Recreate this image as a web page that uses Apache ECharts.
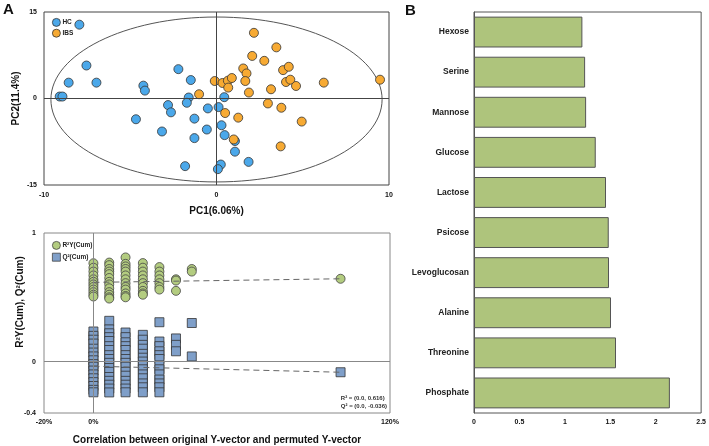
<!DOCTYPE html>
<html>
<head>
<meta charset="utf-8">
<script src="https://cdn.jsdelivr.net/npm/echarts@6/dist/echarts.min.js"></script>
<style>
  html, body { margin: 0; padding: 0; background: #fff; }
  #chart { width: 709px; height: 446px; }
</style>
</head>
<body>
<div id="chart"></div>
<script>
// --- PCA scores (panel A, top)
const hcPoints = [
  [-7.95, 12.8], [-7.54, 5.72], [-8.57, 2.75], [-6.96, 2.75], [-9.09, 0.34], [-8.93, 0.34],
  [-4.24, 2.23], [-4.15, 1.37], [-2.21, 5.09], [-1.49, 3.2], [-1.61, 0.17], [-1.72, -0.74],
  [-2.81, -1.14], [-2.64, -2.4], [-4.67, -3.6], [-3.16, -5.72], [-1.28, -3.49], [-0.5, -1.72],
  [-0.56, -5.38], [-1.28, -6.87], [-1.82, -11.73], [0.12, -1.49], [0.45, 0.23], [0.29, -4.64],
  [0.47, -6.35], [1.07, -7.38], [1.07, -9.22], [1.86, -10.99], [0.25, -11.45], [0.08, -12.25]
];
const ibsPoints = [
  [2.17, 11.39], [3.47, 8.87], [2.07, 7.38], [2.77, 6.53], [1.55, 5.21], [1.74, 4.35],
  [3.86, 4.92], [4.19, 5.5], [-0.1, 3.03], [0.35, 2.69], [0.66, 3.09], [0.89, 3.55],
  [0.68, 1.89], [1.67, 3.03], [1.88, 1.03], [4.03, 2.86], [4.28, 3.26], [4.61, 2.17],
  [3.16, 1.6], [6.22, 2.75], [9.48, 3.26], [-1.01, 0.74], [2.98, -0.86], [3.76, -1.6],
  [0.5, -2.52], [1.26, -3.32], [4.94, -4.0], [3.72, -8.3], [1.0, -7.1]
];
// Hotelling ellipse: center x, center y, radius x, radius y
const ellipse = [0, -0.17, 9.6, 14.3];

// --- permutation test (panel A, bottom), x in %
const permX = [0, 6.4, 13, 20, 26.7, 33.4, 39.8, 100];
const r2Cols = [
  [0.765, 0.73, 0.70, 0.67, 0.64, 0.62, 0.60, 0.58, 0.56, 0.54, 0.52, 0.506],
  [0.77, 0.75, 0.72, 0.70, 0.68, 0.65, 0.62, 0.60, 0.57, 0.54, 0.52, 0.50, 0.49],
  [0.81, 0.76, 0.74, 0.72, 0.70, 0.67, 0.64, 0.61, 0.58, 0.56, 0.53, 0.51, 0.50],
  [0.766, 0.73, 0.70, 0.67, 0.64, 0.61, 0.58, 0.55, 0.53, 0.52],
  [0.735, 0.70, 0.67, 0.64, 0.61, 0.58, 0.56],
  [0.64, 0.63, 0.55],
  [0.72, 0.70],
  [0.644]
];
const q2Cols = [
  [0.234, 0.20, 0.17, 0.14, 0.10, 0.07, 0.04, 0.01, -0.02, -0.04, -0.07, -0.10, -0.13, -0.16, -0.19, -0.22, -0.239],
  [0.317, 0.25, 0.22, 0.19, 0.16, 0.12, 0.09, 0.05, 0.02, -0.01, -0.05, -0.08, -0.12, -0.15, -0.18, -0.21, -0.24],
  [0.226, 0.19, 0.15, 0.12, 0.09, 0.05, 0.02, -0.01, -0.04, -0.08, -0.11, -0.15, -0.18, -0.21, -0.239],
  [0.208, 0.17, 0.13, 0.10, 0.06, 0.03, 0.00, -0.03, -0.06, -0.10, -0.13, -0.17, -0.20, -0.239],
  [0.306, 0.156, 0.12, 0.08, 0.05, 0.02, -0.03, -0.06, -0.10, -0.14, -0.17, -0.20, -0.239],
  [0.18, 0.13, 0.08],
  [0.30, 0.04],
  [-0.083]
];
const r2Line = [[0, 0.616], [100, 0.644]];
const q2Line = [[0, -0.036], [100, -0.083]];

// --- VIP (panel B)
const metabolites = ['Hexose', 'Serine', 'Mannose', 'Glucose', 'Lactose', 'Psicose', 'Levoglucosan', 'Alanine', 'Threonine', 'Phosphate'];
const vip = [1.193, 1.223, 1.234, 1.34, 1.453, 1.483, 1.486, 1.508, 1.563, 2.156];

const FONT = 'Liberation Sans';

function toPoints(xs, cols) {
  const out = [];
  cols.forEach((col, i) => col.forEach(v => out.push([xs[i], v])));
  return out;
}

const chart = echarts.init(document.getElementById('chart'));

const tickLabel = { color: '#111', fontSize: 7, fontWeight: 'bold', fontFamily: FONT };
const axisName = { color: '#111', fontSize: 10, fontWeight: 'bold', fontFamily: FONT };
const legendText = { fontSize: 6.5, fontWeight: 'bold', color: '#222', padding: [0, 0, 0, -3] };

const option = {
  animation: false,
  backgroundColor: '#fff',
  textStyle: { fontFamily: FONT },
  grid: [
    { left: 44, top: 12, width: 345, height: 173, show: true, borderColor: '#444', borderWidth: 1 },
    { left: 44, top: 233, width: 346, height: 180, show: true, borderColor: '#888', borderWidth: 1 },
    { left: 474, top: 12, width: 228, height: 401, show: true, borderColor: '#555', borderWidth: 1 }
  ],
  xAxis: [
    {
      gridIndex: 0, type: 'value', min: -10, max: 10, interval: 10,
      axisLine: { show: false }, axisTick: { show: false }, splitLine: { show: false },
      axisLabel: Object.assign({ margin: 7 }, tickLabel),
      name: 'PC1(6.06%)', nameLocation: 'middle', nameGap: 21, nameTextStyle: axisName
    },
    {
      gridIndex: 1, type: 'value', min: -20, max: 120, interval: 20,
      axisLine: { show: false }, axisTick: { show: false }, splitLine: { show: false },
      axisLabel: Object.assign({
        margin: 6,
        formatter: v => (v === -20 || v === 0 || v === 120) ? v + '%' : ''
      }, tickLabel),
      name: 'Correlation between original Y-vector and permuted Y-vector',
      nameLocation: 'middle', nameGap: 22, nameTextStyle: axisName
    },
    {
      gridIndex: 2, type: 'value', min: 0, max: 2.5, interval: 0.5,
      axisLine: { show: false }, axisTick: { show: false }, splitLine: { show: false },
      axisLabel: Object.assign({ margin: 6 }, tickLabel)
    }
  ],
  yAxis: [
    {
      gridIndex: 0, type: 'value', min: -15, max: 15, interval: 15,
      axisLine: { show: false }, axisTick: { show: false }, splitLine: { show: false },
      axisLabel: Object.assign({ margin: 7 }, tickLabel),
      name: 'PC2(11.4%)', nameLocation: 'middle', nameGap: 23, nameTextStyle: axisName
    },
    {
      gridIndex: 1, type: 'value', min: -0.4, max: 1, interval: 0.2,
      axisLine: { show: false }, axisTick: { show: false }, splitLine: { show: false },
      axisLabel: Object.assign({
        margin: 8,
        formatter: v => {
          if (Math.abs(v - 1) < 1e-6) return '1';
          if (Math.abs(v) < 1e-6) return '0';
          if (Math.abs(v + 0.4) < 1e-6) return '-0.4';
          return '';
        }
      }, tickLabel)
    },
    {
      gridIndex: 2, type: 'category', data: metabolites, inverse: true,
      axisLine: { show: true, lineStyle: { color: '#555' } }, axisTick: { show: false },
      axisLabel: Object.assign({}, tickLabel, { margin: 5, color: '#222', fontSize: 8.5 })
    }
  ],
  legend: [
    {
      orient: 'vertical', left: 47, top: 13, itemWidth: 8, itemHeight: 8, itemGap: 2,
      data: [{ name: 'HC', icon: 'circle' }, { name: 'IBS', icon: 'circle' }],
      itemStyle: { borderWidth: 0.8, borderColor: '#333' },
      textStyle: legendText
    },
    {
      orient: 'vertical', left: 47, top: 236, itemWidth: 8, itemHeight: 8, itemGap: 3,
      data: [{ name: 'R²Y(Cum)', icon: 'circle' }, { name: 'Q²(Cum)', icon: 'rect' }],
      itemStyle: { borderWidth: 0.8, borderColor: '#444' },
      textStyle: legendText
    }
  ],
  graphic: [
    { type: 'text', left: 3, top: 2, style: { text: 'A', font: 'bold 15px ' + FONT, fill: '#111' } },
    { type: 'text', left: 405, top: 3, style: { text: 'B', font: 'bold 15px ' + FONT, fill: '#111' } },
    {
      type: 'text', x: 20, y: 302, rotation: Math.PI / 2,
      style: { text: 'R²Y(Cum), Q²(Cum)', font: 'bold 10px ' + FONT, fill: '#111', align: 'center', verticalAlign: 'middle' }
    },
    {
      type: 'text', right: 322, top: 394,
      style: { text: 'R² = (0.0, 0.616)\nQ² = (0.0, -0.036)', font: 'bold 6px ' + FONT, fill: '#333', align: 'right', lineHeight: 8 }
    }
  ],
  series: [
    {
      type: 'custom', xAxisIndex: 0, yAxisIndex: 0, silent: true, z: 1,
      data: [ellipse],
      renderItem: (params, api) => {
        const c = api.coord([api.value(0), api.value(1)]);
        const e = api.coord([api.value(0) + api.value(2), api.value(1) + api.value(3)]);
        return {
          type: 'ellipse',
          shape: { cx: c[0], cy: c[1], rx: e[0] - c[0], ry: c[1] - e[1] },
          style: { fill: 'none', stroke: '#555', lineWidth: 1 }
        };
      }
    },
    {
      name: 'HC', type: 'scatter', xAxisIndex: 0, yAxisIndex: 0, z: 3,
      data: hcPoints, symbolSize: 9,
      itemStyle: { color: '#4ba8ea', borderColor: '#333', borderWidth: 0.8, opacity: 1 },
      markLine: {
        silent: true, symbol: 'none', label: { show: false },
        lineStyle: { color: '#444', type: 'solid', width: 1 },
        data: [{ xAxis: 0 }, { yAxis: 0 }]
      }
    },
    {
      name: 'IBS', type: 'scatter', xAxisIndex: 0, yAxisIndex: 0, z: 3,
      data: ibsPoints, symbolSize: 9,
      itemStyle: { color: '#f7aa33', borderColor: '#333', borderWidth: 0.8, opacity: 1 }
    },
    {
      name: 'R²Y(Cum)', type: 'scatter', xAxisIndex: 1, yAxisIndex: 1, z: 3,
      data: toPoints(permX, r2Cols), symbol: 'circle', symbolSize: 9,
      itemStyle: { color: '#b3cc80', borderColor: '#444', borderWidth: 0.8, opacity: 1 },
      markLine: {
        silent: true, symbol: 'none', label: { show: false },
        lineStyle: { color: '#888', type: 'solid', width: 1 },
        data: [{ xAxis: 0 }, { yAxis: 0 }]
      }
    },
    {
      name: 'Q²(Cum)', type: 'scatter', xAxisIndex: 1, yAxisIndex: 1, z: 3,
      data: toPoints(permX, q2Cols), symbol: 'rect', symbolSize: 9,
      itemStyle: { color: '#7f9fc9', borderColor: '#333', borderWidth: 0.8, opacity: 1 }
    },
    {
      type: 'line', xAxisIndex: 1, yAxisIndex: 1, data: r2Line, symbol: 'none', z: 4, silent: true,
      lineStyle: { color: '#666', width: 1, type: [6, 4] }
    },
    {
      type: 'line', xAxisIndex: 1, yAxisIndex: 1, data: q2Line, symbol: 'none', z: 4, silent: true,
      lineStyle: { color: '#666', width: 1, type: [6, 4] }
    },
    {
      type: 'bar', xAxisIndex: 2, yAxisIndex: 2, data: vip, barCategoryGap: '23%',
      itemStyle: { color: '#aec47c', borderColor: '#555', borderWidth: 1 }
    }
  ]
};

chart.setOption(option);
</script>
</body>
</html>
